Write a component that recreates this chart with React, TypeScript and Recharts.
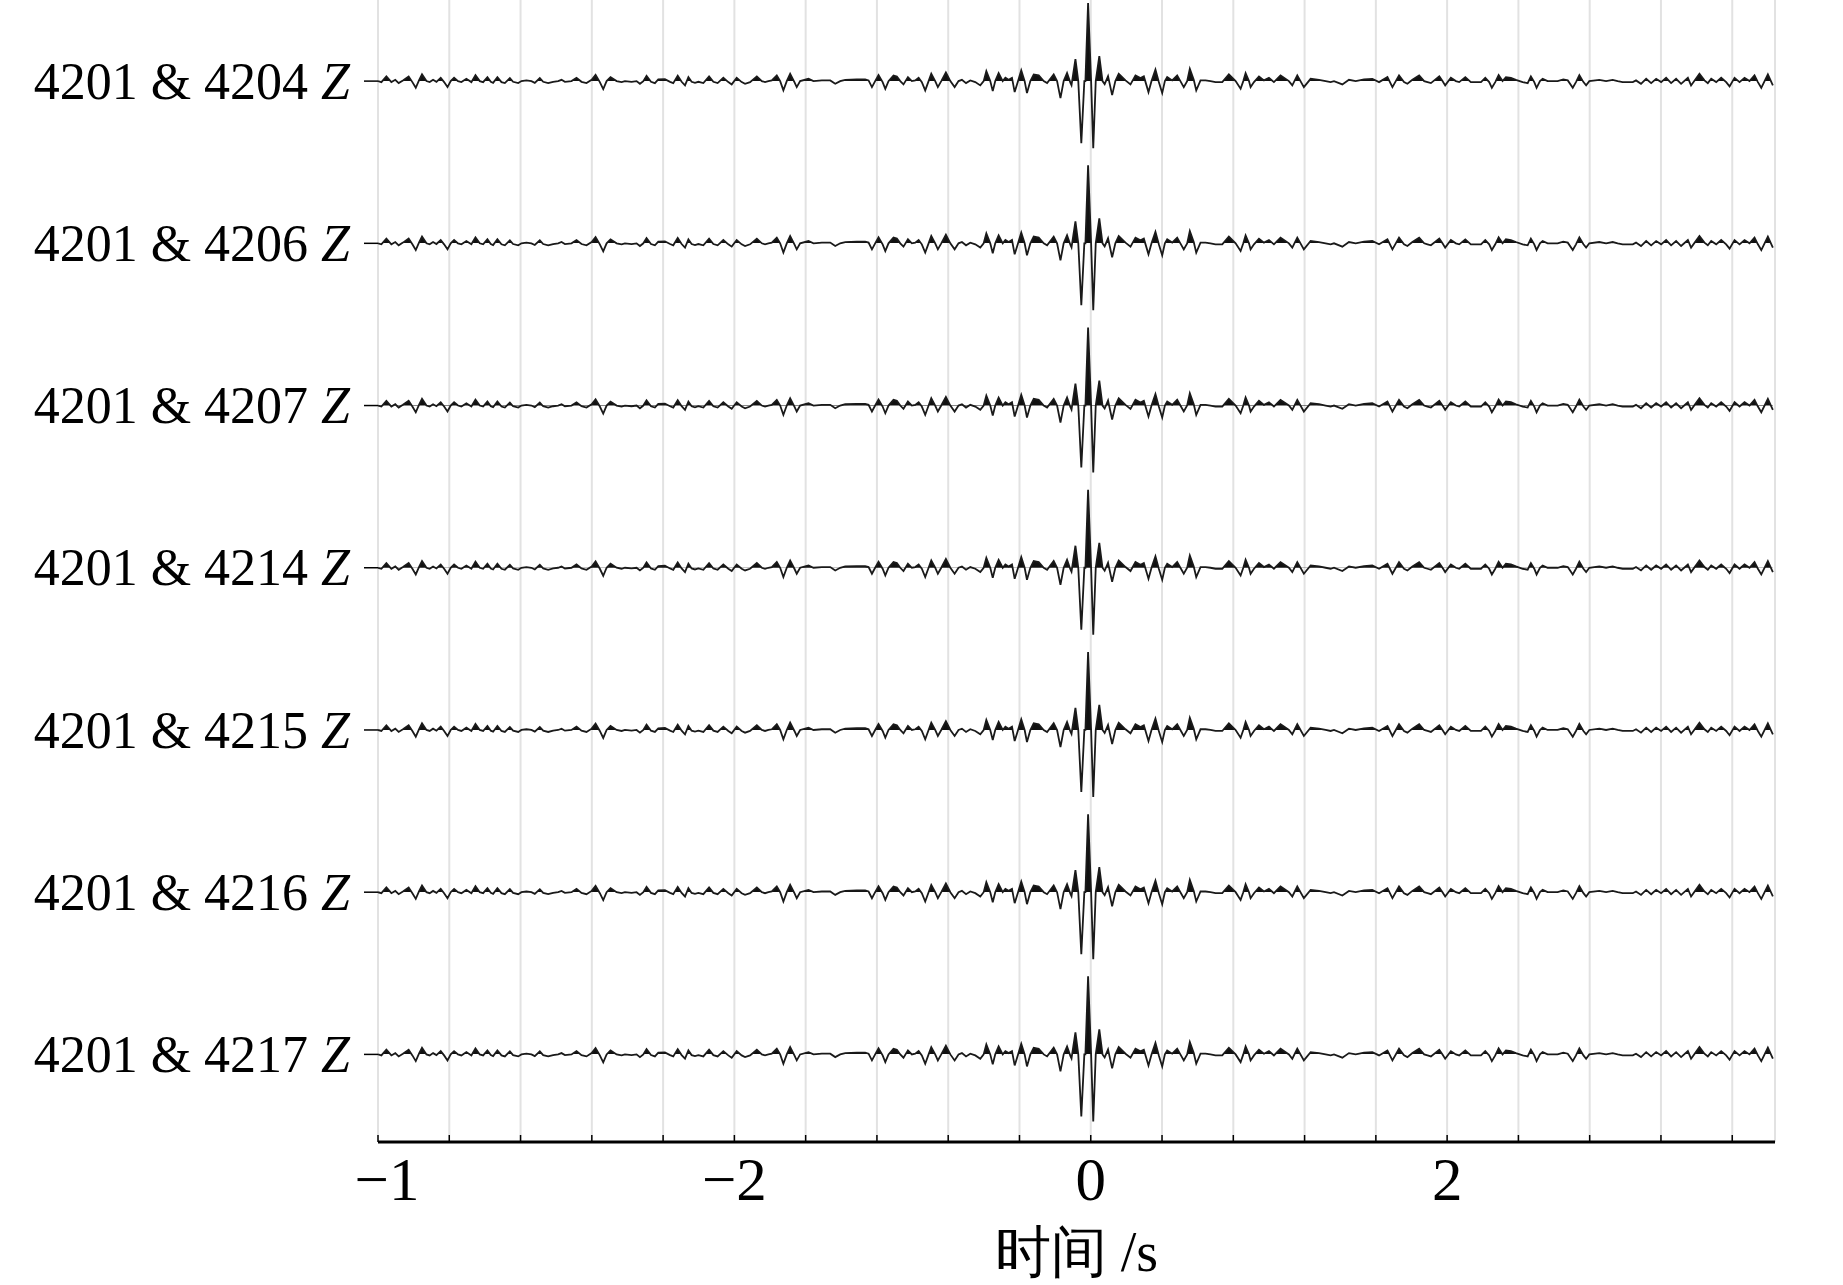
import React from 'react';
import { ComposedChart, Area, XAxis, YAxis, CartesianGrid, Label } from 'recharts';

// station pairs, top to bottom
const rowLabels = [
  '4201 & 4204',
  '4201 & 4206',
  '4201 & 4207',
  '4201 & 4214',
  '4201 & 4215',
  '4201 & 4216',
  '4201 & 4217',
];
const rowBases = [6.5, 5.5, 4.5, 3.5, 2.5, 1.5, 0.5];

const xTicks = [-4, -3.6, -3.2, -2.8, -2.4, -2, -1.6, -1.2, -0.8, -0.4, 0, 0.4, 0.8, 1.2, 1.6, 2, 2.4, 2.8, 3.2, 3.6];
const xTickLabels: Record<string, string> = { '-4': '\u22121', '-2': '\u22122', '0': '0', '2': '2' };

// stacked cross-correlation trace (time in s, amplitude in arbitrary units)
const traceTime = [
  -4.0, -3.981, -3.953, -3.925, -3.903, -3.884, -3.86, -3.828, -3.807, -3.788,
  -3.77, -3.753, -3.728, -3.71, -3.691, -3.672, -3.648, -3.629, -3.61, -3.592,
  -3.573, -3.551, -3.532, -3.504, -3.476, -3.453, -3.429, -3.41, -3.386, -3.367,
  -3.354, -3.33, -3.307, -3.288, -3.26, -3.242, -3.213, -3.195, -3.167, -3.139,
  -3.12, -3.092, -3.073, -3.045, -3.017, -2.989, -2.97, -2.951, -2.914, -2.886,
  -2.858, -2.83, -2.801, -2.779, -2.755, -2.736, -2.717, -2.695, -2.661, -2.633,
  -2.614, -2.577, -2.549, -2.53, -2.511, -2.493, -2.468, -2.446, -2.427, -2.39,
  -2.361, -2.343, -2.318, -2.296, -2.277, -2.258, -2.24, -2.221, -2.202, -2.174,
  -2.142, -2.118, -2.094, -2.062, -2.034, -2.015, -1.987, -1.959, -1.94, -1.912,
  -1.874, -1.846, -1.828, -1.809, -1.79, -1.762, -1.743, -1.725, -1.706, -1.687,
  -1.663, -1.65, -1.631, -1.584, -1.556, -1.509, -1.462, -1.434, -1.406, -1.378,
  -1.313, -1.266, -1.247, -1.228, -1.21, -1.191, -1.168, -1.153, -1.135, -1.107,
  -1.088, -1.069, -1.051, -1.026, -1.004, -0.985, -0.966, -0.948, -0.929, -0.91,
  -0.895, -0.873, -0.858, -0.839, -0.813, -0.788, -0.764, -0.742, -0.723, -0.7,
  -0.676, -0.648, -0.62, -0.601, -0.586, -0.564, -0.55, -0.536, -0.517, -0.494,
  -0.479, -0.461, -0.442, -0.427, -0.408, -0.39, -0.371, -0.358, -0.339, -0.32,
  -0.292, -0.264, -0.245, -0.208, -0.189, -0.17, -0.152, -0.133, -0.114, -0.108,
  -0.086, -0.07, -0.053, -0.036, -0.03, -0.015, 0.002, 0.014, 0.028, 0.048,
  0.066, 0.078, 0.097, 0.12, 0.138, 0.157, 0.195, 0.223, 0.251, 0.279,
  0.298, 0.324, 0.341, 0.363, 0.382, 0.401, 0.416, 0.429, 0.457, 0.485,
  0.503, 0.522, 0.541, 0.556, 0.578, 0.592, 0.616, 0.644, 0.672, 0.7,
  0.738, 0.775, 0.813, 0.841, 0.856, 0.869, 0.888, 0.897, 0.916, 0.944,
  0.972, 1.0, 1.028, 1.065, 1.112, 1.131, 1.159, 1.196, 1.234, 1.281,
  1.318, 1.346, 1.365, 1.412, 1.449, 1.487, 1.534, 1.58, 1.618, 1.665,
  1.693, 1.73, 1.758, 1.777, 1.805, 1.843, 1.871, 1.89, 1.909, 1.956,
  1.974, 1.989, 2.021, 2.049, 2.068, 2.102, 2.133, 2.19, 2.214, 2.236,
  2.251, 2.27, 2.289, 2.311, 2.33, 2.358, 2.386, 2.424, 2.452, 2.47,
  2.489, 2.502, 2.521, 2.536, 2.564, 2.62, 2.652, 2.677, 2.705, 2.723,
  2.742, 2.765, 2.78, 2.798, 2.854, 2.892, 2.929, 2.957, 2.985, 3.042,
  3.06, 3.088, 3.117, 3.145, 3.173, 3.201, 3.229, 3.257, 3.285, 3.313,
  3.351, 3.369, 3.416, 3.444, 3.463, 3.482, 3.51, 3.538, 3.566, 3.585,
  3.613, 3.641, 3.669, 3.697, 3.725, 3.744, 3.763, 3.8, 3.828,
];
const traceAmp = [
  0, -1, 4.7, -1, 1.3, -2, 0.7, 4.7, -1, -6.7,
  0.7, 6.7, 0, -1, 1.3, -0.7, 3.3, -1, -6, 0,
  3.3, 0, -1, 2.3, -1, 6, 0, -1, 4, -0.7,
  -1.7, 4, -1, -2, 3, -0.7, -2, 0, 0.7, 0,
  -1.7, 3, -0.7, -2, -0.7, 0, 1.3, -0.7, 0, 3.3,
  -0.7, -2, 1.3, 6.3, -1, -8, 0, 4, 0, -1,
  0, -0.7, 0, -2.7, 0, 5.3, -0.7, -2, 1.7, 2,
  -0.7, -2, 5.3, -0.7, -4.3, 4, -0.7, -1.7, -0.7, -2,
  4.7, -0.7, -2, 3.3, -1, -3.3, 3.3, -1, -2.7, -1,
  4.7, 0, -1, 0, 0.7, 5.7, 0, -9.3, 0, 7.3,
  -1, -6, 0, 2.3, 0, 0.7, 0.7, -2.7, 0, 1.3,
  1.7, 1.7, 0.7, -6, 0, 6, -1, -7.7, 0, 5.7,
  4.7, 0, -3.3, 4, 0, 0.7, 3.3, -1, -9.3, 0,
  7.3, 0, -6, 0, 8.7, 0, -6, 0, 1.3, -2,
  0.7, -1, -4.3, 0, 10, 0, -10, 0, 8, 0,
  3.3, 1.3, 3.3, -11, 0, 10.7, 0, -12, 0, 6.7,
  5.7, 0, -2, 6.7, 0, -17, 0, 8, -1.7, -4,
  22, 0, -62, 0, 0, 78, 0, -67, 0, 25,
  0, -3, 5, -14, 0, 7.3, 0.7, -3.3, 5.7, 3,
  4.7, -11, 0, 11.5, -1, -12, 0, 4, 0.7, 5.7,
  0, -6, 0, 12.3, 1.3, -9.3, 0.7, 0.7, 0, -1,
  -1, 6.7, 0, -7.7, 0, 8, 0, -6, -1, 4.7,
  0.7, 3.3, -1, 5.7, 0, -4.3, 5.7, -6, 2.3, 1.3,
  0, -1, 0, -3.3, 1.3, 0, 1.7, 2.3, -1, 4,
  -6, 5.7, -1, -2.7, 1.3, 5.7, 0, -1, -2, 4.7,
  0, -4.3, 3.3, 0, -1, 4, -1, -1, 3.3, -1,
  -6.7, -1, 6, 0, 4, 3.3, 1.3, -1, -2, 4.7,
  -1, -6.7, 0, 2.3, 0, 0, 1.7, 0.7, -6.7, -1,
  6, -1, -4.3, 0, 1.3, 0, 1.3, 0, -1, -1,
  0.7, -2.7, 2.3, -2, 2.3, -1, 3.3, -2, 2.3, -2.7,
  3.3, -4.3, 7.3, 0.7, -2, 2.3, -1, 3.3, -1, -5.3,
  3.3, -1, 3.3, 0, 5.7, -1, -6.7, 6.7, -4.3,
];

const WIDTH = 1843;
const HEIGHT = 1285;
const Y_AXIS_W = 378;
const X_AXIS_H = 143;
const PLOT_H = HEIGHT - X_AXIS_H;
const Y_MIN = -0.04;
const Y_MAX = 7;
const AMP_SCALE = (Y_MAX - Y_MIN) / PLOT_H;
const SERIF = "'Liberation Serif', 'Times New Roman', serif";

const rowPixel = (base: number) => ((Y_MAX - base) / (Y_MAX - Y_MIN)) * PLOT_H;

const data = traceTime.map((t, i) => {
  const point: Record<string, number> = { t };
  rowBases.forEach((b, r) => {
    point['r' + r] = b + traceAmp[i] * AMP_SCALE;
  });
  return point;
});

const XTick = (props: any) => {
  const { x, y, payload } = props;
  const lab = xTickLabels[String(payload.value)];
  return (
    <g>
      <line x1={x} x2={x} y1={y} y2={y - 7} stroke="#000" strokeWidth={1.5} />
      {lab && (
        <text
          x={x + (payload.value === -4 ? 9 : 0)}
          y={y + 58}
          textAnchor="middle"
          fontSize={61}
          fontFamily={SERIF}
          fill="#000"
        >
          {lab}
        </text>
      )}
    </g>
  );
};

const YTick = (props: any) => {
  const { x, y, payload } = props;
  const idx = rowBases.indexOf(payload.value);
  if (idx < 0) return null;
  return (
    <text x={x} y={y} dy="0.34em" textAnchor="end" fontSize={52} fontFamily={SERIF} fill="#000">
      {rowLabels[idx]}{' '}
      <tspan fontStyle="italic">Z</tspan>
    </text>
  );
};

export default function App() {
  return (
    <div style={{ position: 'absolute', left: 0, top: 0, width: WIDTH, height: HEIGHT, background: '#fff' }}>
      <ComposedChart width={WIDTH} height={HEIGHT} data={data} margin={{ top: 0, right: 68, bottom: 0, left: 0 }}>
        <defs>
          {rowBases.map((b, r) => {
            const py = rowPixel(b);
            return (
              <linearGradient key={r} id={`pos${r}`} gradientUnits="userSpaceOnUse" x1={0} x2={0} y1={py - 1} y2={py + 1}>
                <stop offset="0.5" stopColor="#111" stopOpacity={1} />
                <stop offset="0.5" stopColor="#fff" stopOpacity={0} />
              </linearGradient>
            );
          })}
        </defs>
        <CartesianGrid horizontal={false} stroke="#e2e2e2" strokeWidth={2} />
        <XAxis
          dataKey="t"
          type="number"
          domain={[-4, 3.84]}
          ticks={xTicks}
          interval={0}
          allowDataOverflow
          height={X_AXIS_H}
          tickSize={0}
          tickMargin={0}
          tickLine={false}
          axisLine={{ stroke: '#000', strokeWidth: 3 }}
          tick={<XTick />}
        >
          <Label value="时间 /s" position="insideBottom" offset={14} fontSize={56} fontFamily={SERIF} fill="#000" />
        </XAxis>
        <YAxis
          type="number"
          domain={[Y_MIN, Y_MAX]}
          ticks={rowBases}
          interval={0}
          allowDataOverflow
          width={Y_AXIS_W}
          axisLine={false}
          tickLine={{ stroke: '#000', strokeWidth: 1.5 }}
          tickSize={14}
          tickMargin={14}
          tick={<YTick />}
        />
        {rowBases.map((b, r) => (
          <Area
            key={r}
            dataKey={'r' + r}
            type="linear"
            baseValue={b}
            stroke="#1a1a1a"
            strokeWidth={1.8}
            fill={`url(#pos${r})`}
            fillOpacity={1}
            dot={false}
            activeDot={false}
            isAnimationActive={false}
          />
        ))}
      </ComposedChart>
    </div>
  );
}
